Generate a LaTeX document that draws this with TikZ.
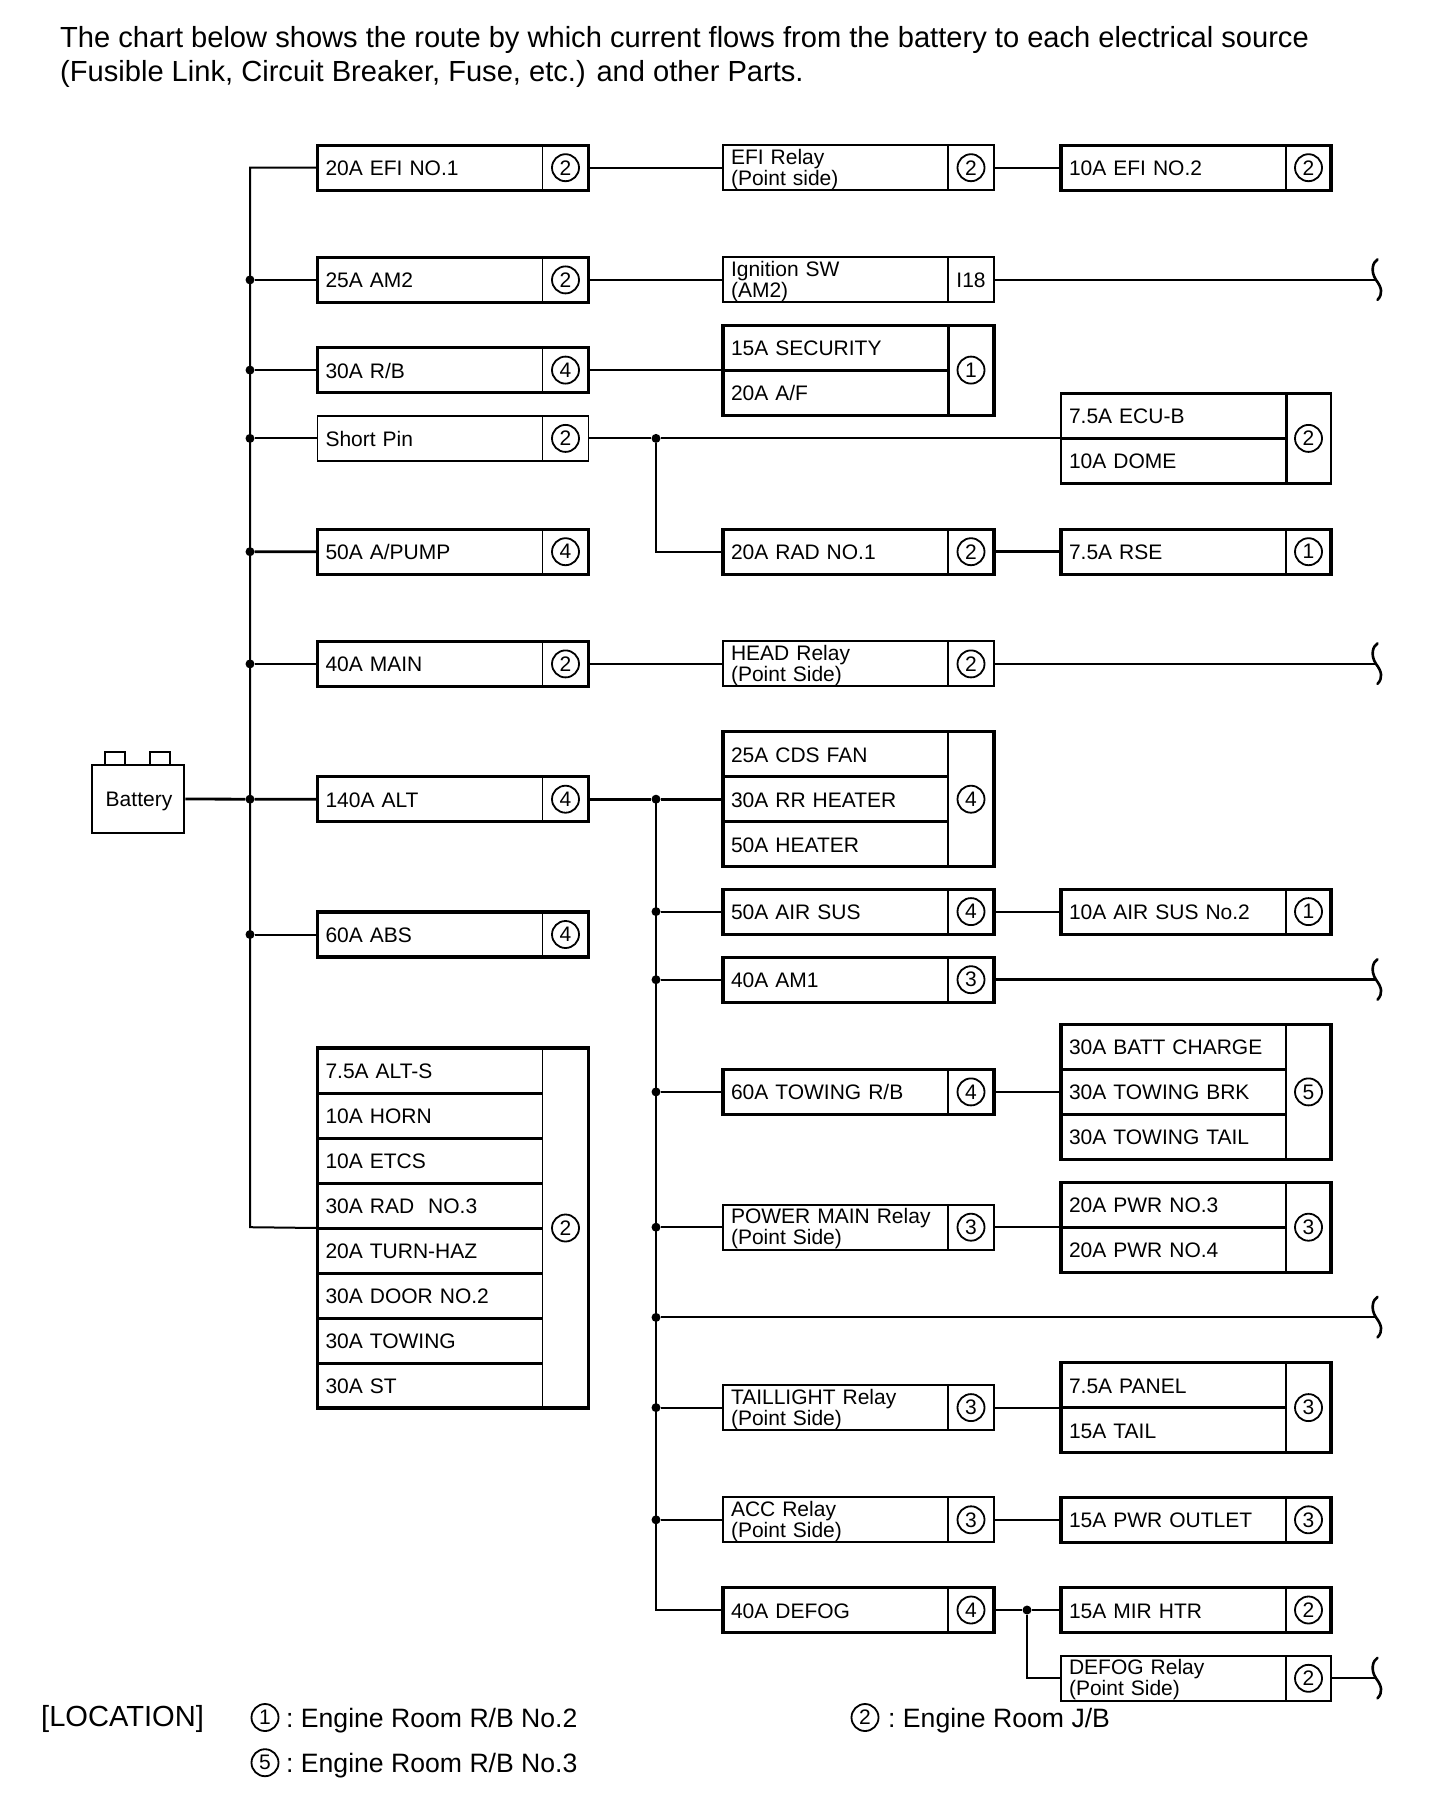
\documentclass[tikz,border=0pt]{standalone}
\usepackage{fontspec}
\usetikzlibrary{calc}
\setmainfont{Liberation Sans}
\newcommand\lab{\fontsize{21}{20.8}\selectfont}
\newcommand\bigtxt{\fontsize{29.1}{33}\selectfont}
\newcommand\legtxt{\fontsize{26.6}{33}\selectfont}
\tikzset{
 wire/.style={line width=2pt},
 midwire/.style={line width=2.4pt},
 bigwire/.style={line width=2.8pt},
 basecell/.style={draw,rectangle,line width=1.9pt,inner xsep=8pt,inner ysep=0pt,outer sep=0pt,minimum height=45pt,text width=209pt,align=left,font=\lab,anchor=west},
 cell/.style={basecell,text height=16pt,text depth=0pt},
 relay/.style={basecell,execute at begin node={\rule{0pt}{18.5pt}}},
 tagcell/.style={draw,rectangle,line width=1.9pt,inner sep=0pt,outer sep=0pt,minimum width=46pt,minimum height=45pt,font=\lab},
 ring/.style={draw,circle,line width=1.8pt,inner sep=0pt,minimum size=27pt,font=\lab},
 dot/.style={circle,fill=black,inner sep=0pt,minimum size=9pt},
 heavy/.style={line width=3.2pt},
 squig/.style={line width=2.6pt,line cap=round},
 txt/.style={font=\bigtxt,inner sep=0pt,anchor=base west},
 legend/.style={font=\legtxt,inner sep=0pt,anchor=base west},
}
\newcommand\plainbox[6][cell]{%
 \node[#1] (#2) at (#3,#4) {#5};
 \node[tagcell,anchor=west] (#2-t) at (#2.east) {};
 \node[ring] (#2-c) at (#2-t) {#6};}
\newcommand\boldbox[6][cell]{%
 \plainbox[#1]{#2}{#3}{#4}{#5}{#6}
 \draw[heavy] (#2.north west) rectangle (#2-t.south east);}
\newcommand\stacktag[5]{%
 \path let \p1=(#1.north east), \p2=(#2.south east), \n1={abs(\y1-\y2)} in
   node[tagcell,minimum height=\n1,anchor=north west] (#3-t) at (\p1) {};
 \node[ring] (#3-c) at (#3-t) {#4};
 \draw[line width=#5] (#1.north west) rectangle (#3-t.south east);}
\newcommand\squiggle[1]{%
 \draw[squig] ([shift={(1.5,-20.5)}]#1) .. controls ([shift={(-3,-18)}]#1) and ([shift={(-6,-9)}]#1) .. (#1) .. controls ([shift={(6,8)}]#1) and ([shift={(7,14)}]#1) .. ([shift={(1.5,20)}]#1);}
\begin{document}
\begin{tikzpicture}[x=1pt,y=-1pt]
\useasboundingbox (0,0) rectangle (1440,1814);
\fill[white] (0,0) rectangle (1440,1814);
\node[txt] (h1) at (60,48) {The chart below shows the route by which current flows from the battery to each electrical source};
\node[txt] (h2) at (60,82) {(Fusible Link, Circuit Breaker, Fuse, etc.) and other Parts.};

\node[draw,line width=2.6pt,minimum width=20pt,minimum height=14pt,inner sep=0pt] (bt1) at (115,759) {};
\node[draw,line width=2.6pt,minimum width=20pt,minimum height=14pt,inner sep=0pt] (bt2) at (160,759) {};
\node[draw,fill=white,line width=2.8pt,minimum width=92pt,minimum height=68pt,inner sep=0pt,font=\lab,text height=15pt,text depth=0pt] (bat) at (138,799) {\hspace*{2pt}Battery};

\boldbox{efia}{317.5}{167.7}{20A EFI NO.1}{2}
\boldbox{ama}{317.5}{279.9}{25A AM2}{2}
\boldbox{rb}{317.5}{370.1}{30A R/B}{4}
\plainbox{sp}{317.5}{438.4}{Short Pin}{2}
\boldbox{pump}{317.5}{551.7}{50A A/PUMP}{4}
\boldbox{main}{317.5}{663.9}{40A MAIN}{2}
\boldbox{alt}{317.5}{799.2}{140A ALT}{4}
\boldbox{abs}{317.5}{934.5}{60A ABS}{4}
\node[cell] (sa) at (317.5,1070.5) {7.5A ALT-S};
\node[cell] (sb) at (317.5,1115.5) {10A HORN};
\node[cell] (sc) at (317.5,1160.5) {10A ETCS};
\node[cell] (sd) at (317.5,1205.5) {30A RAD\ \ NO.3};
\node[cell] (se) at (317.5,1250.5) {20A TURN-HAZ};
\node[cell] (sf) at (317.5,1295.5) {30A DOOR NO.2};
\node[cell] (sg) at (317.5,1340.5) {30A TOWING};
\node[cell] (sh) at (317.5,1385.5) {30A ST};
\stacktag{sa}{sh}{fuses}{2}{3.2pt}
\draw[line width=3pt] (sa.south west) -- (sa.south east) (sb.south west) -- (sb.south east) (sc.south west) -- (sc.south east) (sd.south west) -- (sd.south east) (se.south west) -- (se.south east) (sf.south west) -- (sf.south east) (sg.south west) -- (sg.south east);

\plainbox[relay]{efir}{723}{167.7}{EFI Relay\\(Point side)}{2}
\node[relay] (ign) at (723,279.9) {Ignition SW\\(AM2)};
\node[tagcell,anchor=west,minimum width=46pt] (ign-t) at (ign.east) {I18};
\node[cell] (seca) at (723,347.6) {15A SECURITY};
\node[cell] (secb) at (723,392.6) {20A A/F};
\stacktag{seca}{secb}{sec}{1}{3.2pt}
\draw[line width=3pt] (seca.south west) -- (seca.south east) (seca.north east) -- (secb.south east);
\boldbox{rad}{723}{551.7}{20A RAD NO.1}{2}
\plainbox[relay]{head}{723}{663.9}{HEAD Relay\\(Point Side)}{2}
\node[cell] (cds) at (723,754.2) {25A CDS FAN};
\node[cell] (rr) at (723,799.2) {30A RR HEATER};
\node[cell] (htr) at (723,844.2) {50A HEATER};
\stacktag{cds}{htr}{ht}{4}{3.2pt}
\draw[line width=3pt] (cds.south west) -- (cds.south east) (rr.south west) -- (rr.south east);
\boldbox{air}{723}{911.6}{50A AIR SUS}{4}
\boldbox{amo}{723}{979.7}{40A AM1}{3}
\boldbox{tow}{723}{1091.9}{60A TOWING R/B}{4}
\plainbox[relay]{pwrm}{723}{1227.2}{POWER MAIN Relay\\(Point Side)}{3}
\plainbox[relay]{tail}{723}{1407.6}{TAILLIGHT Relay\\(Point Side)}{3}
\plainbox[relay]{acc}{723}{1519.8}{ACC Relay\\(Point Side)}{3}
\boldbox{defog}{723}{1610}{40A DEFOG}{4}

\begin{scope}[tagcell/.append style={minimum width=45pt}]
\boldbox{efib}{1061}{167.7}{10A EFI NO.2}{2}
\node[cell] (ecu) at (1061,415.9) {7.5A ECU-B};
\node[cell] (dome) at (1061,460.9) {10A DOME};
\stacktag{ecu}{dome}{ed}{2}{2.2pt}
\draw[line width=3pt] (ecu.south west) -- (ecu.south east) (ecu.north east) -- (dome.south east);
\boldbox{rse}{1061}{551.7}{7.5A RSE}{1}
\boldbox{airb}{1061}{911.6}{10A AIR SUS No.2}{1}
\node[cell] (bc) at (1061,1046.9) {30A BATT CHARGE};
\node[cell] (tb) at (1061,1091.9) {30A TOWING BRK};
\node[cell] (tt) at (1061,1136.9) {30A TOWING TAIL};
\stacktag{bc}{tt}{bt}{5}{3.2pt}
\draw[line width=3pt] (bc.south west) -- (bc.south east) (tb.south west) -- (tb.south east);
\node[cell] (pa) at (1061,1204.7) {20A PWR NO.3};
\node[cell] (pb) at (1061,1249.7) {20A PWR NO.4};
\stacktag{pa}{pb}{pw}{3}{3.2pt}
\draw[line width=3pt] (pa.south west) -- (pa.south east);
\node[cell] (pan) at (1061,1385.1) {7.5A PANEL};
\node[cell] (tl) at (1061,1430.1) {15A TAIL};
\stacktag{pan}{tl}{pt}{3}{3.2pt}
\draw[line width=3pt] (pan.south west) -- (pan.south east);
\boldbox{out}{1061}{1519.8}{15A PWR OUTLET}{3}
\boldbox{mir}{1061}{1610}{15A MIR HTR}{2}
\plainbox[relay]{dr}{1061}{1678.3}{DEFOG Relay\\(Point Side)}{2}
\end{scope}

\coordinate (bta) at (250,167.7);
\coordinate (btz) at (250,1227.2);
\node[dot] (d1) at (250,279.9) {};
\node[dot] (d2) at (250,370.1) {};
\node[dot] (d3) at (250,438.4) {};
\node[dot] (d4) at (250,551.7) {};
\node[dot] (d5) at (250,663.9) {};
\node[dot] (d6) at (250,799.2) {};
\node[dot] (d7) at (250,934.5) {};
\draw[wire] (efia.west) -- (bta) -- (d1.center) -- (d2.center) -- (d3.center) -- (d4.center) -- (d5.center) -- (d6.center) -- (d7.center) -- (btz) -- (sd.south west);
\draw[wire] (d1) -- (ama.west) (d2) -- (rb.west) (d3) -- (sp.west) (d5) -- (main.west) (d7) -- (abs.west);
\draw[bigwire] (d4) -- (pump.west) (bat.east) -- (d6) -- (alt.west);

\node[dot] (e0) at (656,799.2) {};
\node[dot] (e1) at (656,911.6) {};
\node[dot] (e2) at (656,979.7) {};
\node[dot] (e3) at (656,1091.9) {};
\node[dot] (e4) at (656,1227.2) {};
\node[dot] (e5) at (656,1317.4) {};
\node[dot] (e6) at (656,1407.6) {};
\node[dot] (e7) at (656,1519.8) {};
\coordinate (ez) at (656,1610);
\draw[bigwire] (alt-t.east) -- (e0) -- (rr.west);
\draw[bigwire] (e0.center) -- (e1.center) -- (e2.center) -- (e3.center) -- (e4.center) -- (e5.center) -- (e6.center) -- (e7.center) -- (ez) -- (defog.west);
\draw[wire] (e1) -- (air.west) (e3) -- (tow.west) (e4) -- (pwrm.west) (e6) -- (tail.west) (e7) -- (acc.west);
\draw[midwire] (e2) -- (amo.west);

\node[dot] (f0) at (656,438.4) {};
\draw[wire] (sp-t.east) -- (f0) -- (ecu.south west);
\draw[wire] (f0) |- (rad.west);

\draw[wire] (efia-t.east) -- (efir.west);
\draw[wire] (ama-t.east) -- (ign.west);
\draw[wire] (rb-t.east) -- (seca.south west);
\draw[wire] (main-t.east) -- (head.west);
\draw[wire] (efir-t.east) -- (efib.west);
\draw[bigwire] (rad-t.east) -- (rse.west);
\draw[wire] (air-t.east) -- (airb.west);
\draw[wire] (tow-t.east) -- (tb.west);
\draw[wire] (pwrm-t.east) -- (pa.south west);
\draw[wire] (tail-t.east) -- (pan.south west);
\draw[wire] (acc-t.east) -- (out.west);
\node[dot] (g0) at (1027,1610) {};
\draw[midwire] (defog-t.east) -- (g0) -- (mir.west);
\draw[wire] (g0) |- (dr.west);

\coordinate (ka) at (1376,279.9);
\coordinate (kb) at (1376,663.9);
\coordinate (kc) at (1376,979.7);
\coordinate (kd) at (1376,1317.4);
\coordinate (ke) at (1376,1678.3);
\draw[wire] (ign-t.east) -- (ka);
\draw[wire] (head-t.east) -- (kb);
\draw[bigwire] (amo-t.east) -- (kc);
\draw[wire] (e5) -- (kd);
\draw[wire] (dr-t.east) -- (ke);
\squiggle{ka}\squiggle{kb}\squiggle{kc}\squiggle{kd}\squiggle{ke}

\node[txt] (loc) at (41,1726) {[LOCATION]};
\node[ring] (l1) at (265,1717.5) {1};
\node[legend] (l1t) at (286,1727) {:\ Engine Room R/B No.2};
\node[ring] (l2) at (865,1717.5) {2};
\node[legend] (l2t) at (888,1727) {:\ Engine Room J/B};
\node[ring] (l5) at (265,1762.7) {5};
\node[legend] (l5t) at (286,1772) {:\ Engine Room R/B No.3};
\end{tikzpicture}
\end{document}
